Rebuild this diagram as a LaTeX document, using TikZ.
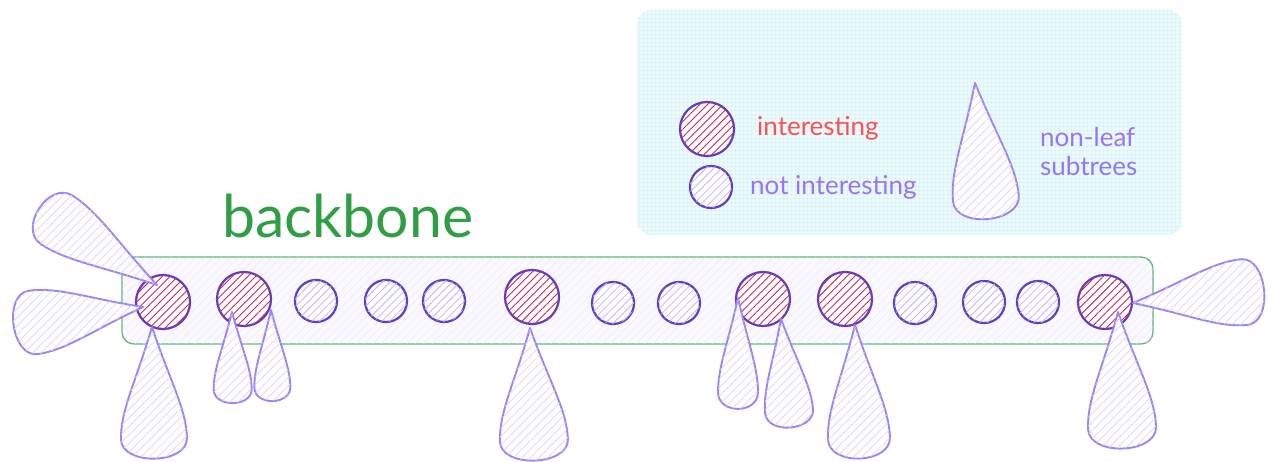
\documentclass[tikz,border=0pt]{standalone}
\usepackage{fontspec}
\setmainfont{Lato}
\usetikzlibrary{patterns.meta}
\definecolor{nodeedge}{HTML}{5F3DC4}
\definecolor{hotline}{HTML}{C92A5A}
\definecolor{coolline}{HTML}{C5B3FD}
\definecolor{dropedge}{HTML}{9C84F5}
\definecolor{dropline}{HTML}{DDD3FF}
\definecolor{bonegreen}{HTML}{2F9E44}
\definecolor{bonefill}{HTML}{FAF9FF}
\definecolor{boneline}{HTML}{ECE6FF}
\definecolor{keyfill}{HTML}{EDFAFB}
\definecolor{keyline}{HTML}{D2F2F5}
\definecolor{hottext}{HTML}{FA5252}
\definecolor{cooltext}{HTML}{9775FA}
\tikzset{
  hot/.style={circle, draw=nodeedge, line width=2.2pt, minimum size=54pt, inner sep=0pt,
    fill=white, postaction={pattern={Lines[angle=45,distance=5.5pt,line width=0.9pt]}, pattern color=hotline}},
  cool/.style={circle, draw=nodeedge, line width=2.2pt, minimum size=42pt, inner sep=0pt,
    fill=white, postaction={pattern={Lines[angle=45,distance=5.5pt,line width=0.8pt]}, pattern color=coolline}},
  dropshape/.style={draw=dropedge, line width=1.9pt, line join=round, fill=white,
    postaction={pattern={Lines[angle=45,distance=6pt,line width=0.7pt]}, pattern color=dropline}},
  pics/drop/.style args={#1/#2}{code={
    \path[dropshape] (0,0)
      .. controls ({0.40*#1},{0.50*#2}) and ({0.62*#1},{1.0*#2}) .. ({0.84*#1},{#2})
      .. controls ({1.04*#1},{#2}) and ({1.04*#1},{-#2}) .. ({0.84*#1},{-#2})
      .. controls ({0.62*#1},{-1.0*#2}) and ({0.40*#1},{-0.50*#2}) .. (0,0) -- cycle;
  }},
  label/.style={inner sep=0pt, anchor=base west},
  keytext/.style={label, font=\fontsize{26}{30}\selectfont},
}
\begin{document}
\begin{tikzpicture}[x=1pt, y=-1pt]
\useasboundingbox (0,0) rectangle (1271,462);

% legend panel
\path[fill=keyfill, postaction={pattern={Hatch[distance=4pt,line width=0.5pt]}, pattern color=keyline}]
  [rounded corners=14pt] (637,10) rectangle (1182,235);
\node[hot] (khot) at (707,129) {};
\node[cool] (kcool) at (711,187) {};
\pic[rotate=-84.6] (kdrop) at (975,83) {drop=138/33};
\node[keytext, text=hottext] (thot) at (757,136) {interesting};
\node[keytext, text=cooltext] (tcool) at (750,195) {not interesting};
\node[keytext, text=cooltext] (tdrop1) at (1040,147) {non-leaf};
\node[keytext, text=cooltext] (tdrop2) at (1040,176) {subtrees};

% backbone
\node[label, text=bonegreen, font=\fontsize{59}{64}\selectfont] (title) at (222,238) {backbone};
\path[fill=bonefill, draw=bonegreen, draw opacity=0.75, line width=1.3pt,
  postaction={pattern={Lines[angle=45,distance=6pt,line width=0.6pt]}, pattern color=boneline}]
  [rounded corners=12pt] (122,257) rectangle (1153,344);

\node[hot]  (n1)  at (163,302) {};
\node[hot]  (n2)  at (244,299) {};
\node[cool] (n3)  at (316,301) {};
\node[cool] (n4)  at (386,301) {};
\node[cool] (n5)  at (444,301) {};
\node[hot]  (n6)  at (532,297) {};
\node[cool] (n7)  at (613,303) {};
\node[cool] (n8)  at (679,303) {};
\node[hot]  (n9)  at (763,299) {};
\node[hot]  (n10) at (845,299) {};
\node[cool] (n11) at (915,303) {};
\node[cool] (n12) at (984,302) {};
\node[cool] (n13) at (1038,302) {};
\node[hot]  (n14) at (1105,302) {};

% subtrees hanging off the interesting nodes
\pic[rotate=147]   (s1a)  at (157,285)  {drop=142/29};
\pic[rotate=-172]  (s1b)  at (143,307)  {drop=132/32};
\pic[rotate=-89]   (s1c)  at (152,327)  {drop=133/33};
\pic[rotate=-89.5] (s2a)  at (232,312)  {drop=92/19};
\pic[rotate=-89]   (s2b)  at (271,310)  {drop=92/18};
\pic[rotate=-88]   (s6)   at (530,328)  {drop=134/34};
\pic[rotate=-90]   (s9a)  at (738,298)  {drop=112/20};
\pic[rotate=-85]   (s9b)  at (781,319)  {drop=110/24};
\pic[rotate=-88]   (s10)  at (855,325)  {drop=135/31};
\pic[rotate=5.6]   (s14a) at (1133,303) {drop=133/33};
\pic[rotate=-88]   (s14b) at (1118,312) {drop=138/34};
\end{tikzpicture}
\end{document}
